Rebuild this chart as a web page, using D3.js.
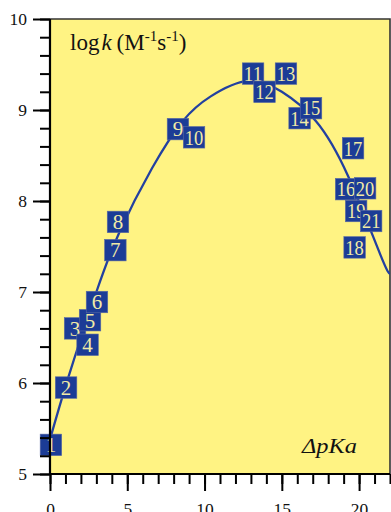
<!DOCTYPE html>
<html>
<head>
<meta charset="utf-8">
<script src="https://cdn.jsdelivr.net/npm/d3@7"></script>
<style>
  html, body { margin: 0; padding: 0; background: #ffffff; }
  svg { display: block; }
  text { font-family: "Liberation Serif", "Times New Roman", serif; }
</style>
</head>
<body>
<svg id="chart" width="391" height="512"></svg>
<script>
// Compound number, ΔpKa and log k for each labelled point
const labels = ["1","2","3","4","5","6","7","8","9","10","11","12","13","14","15","16","17","18","19","20","21"];
const dpKa   = [0.06, 1.04, 1.62, 2.43, 2.59, 3.04, 4.23, 4.40, 8.28, 9.32, 13.14, 13.88, 15.27, 16.15, 16.89, 19.16, 19.61, 19.71, 19.81, 20.39, 20.78];
const logK   = [5.32, 5.95, 6.60, 6.42, 6.69, 6.89, 7.46, 7.77, 8.79, 8.70, 9.40, 9.20, 9.40, 8.91, 9.02, 8.13, 8.58, 7.49, 7.89, 8.14, 7.78];

// Fitted curve, sampled along its path
const fitX = [0, 1.2, 3.0, 4.5, 6.6, 8.6, 10.4, 12.8, 15.0, 17.2, 19.3, 21.4, 22.0];
const fitY = [5.38, 6.07, 7.00, 7.66, 8.36, 8.88, 9.15, 9.32, 9.20, 8.88, 8.27, 7.40, 7.20];

// Axis ticks
const xMajor = [0, 5, 10, 15, 20];
const xMinor = d3.range(0, 23, 1);
const yMajor = [5, 6, 7, 8, 9, 10];
const yMinor = d3.range(50, 101, 2).map(v => v / 10);

const svg = d3.select("#chart");
const mLeft = 50, mRight = 390, mTop = 19, mBottom = 474;

const x = d3.scaleLinear().domain([0, 22]).range([mLeft, mRight]);
const y = d3.scaleLinear().domain([5, 10]).range([mBottom, mTop]);

// Plot background
svg.append("rect")
  .attr("x", mLeft).attr("y", mTop)
  .attr("width", mRight - mLeft).attr("height", mBottom - mTop)
  .attr("fill", "#fff383");

// Frame on top and right
svg.append("path")
  .attr("d", `M${mLeft},${mTop}H${mRight}V${mBottom}`)
  .attr("fill", "none").attr("stroke", "#333").attr("stroke-width", 1.6);

// Fitted curve
const line = d3.line().x(d => x(d[0])).y(d => y(d[1])).curve(d3.curveNatural);
svg.append("path")
  .datum(fitX.map((v, i) => [v, fitY[i]]))
  .attr("d", line)
  .attr("fill", "none")
  .attr("stroke", "#2340a0")
  .attr("stroke-width", 2.3);

// Square markers with compound numbers
const pts = labels.map((l, i) => ({ l, x: dpKa[i], y: logK[i] }));
const box = 21.5;
const g = svg.append("g").selectAll("g").data(pts).join("g")
  .attr("transform", d => `translate(${x(d.x)},${y(d.y)})`);
g.append("rect")
  .attr("x", -box / 2).attr("y", -box / 2)
  .attr("width", box).attr("height", box)
  .attr("fill", "#1c3c96")
  .attr("stroke", "#5a6aa4").attr("stroke-width", 0.6);
g.append("text")
  .attr("text-anchor", "middle")
  .attr("y", 7.3)
  .attr("font-size", 21)
  .attr("fill", "#f2eba6")
  .each(function (d) {
    if (d.l.length > 1) {
      d3.select(this).attr("textLength", 18.5).attr("lengthAdjust", "spacingAndGlyphs");
    }
  })
  .text(d => d.l);

// Axes
const axisStyle = sel => {
  sel.selectAll("line").attr("stroke", "#000").attr("stroke-width", 2);
  sel.selectAll("text").attr("font-family", "Liberation Serif, serif").attr("font-size", 17.5).attr("fill", "#111");
};

svg.append("g").attr("transform", `translate(0,${mBottom})`)
  .call(d3.axisBottom(x).tickValues(xMinor).tickSize(10).tickSizeOuter(0).tickFormat(""))
  .call(s => s.select(".domain").remove())
  .call(axisStyle);
svg.append("g").attr("transform", `translate(0,${mBottom})`)
  .call(d3.axisBottom(x).tickValues(xMajor).tickSize(17).tickSizeOuter(0).tickPadding(11.5).tickFormat(d3.format("d")))
  .call(s => s.select(".domain").remove())
  .call(axisStyle);

svg.append("g").attr("transform", `translate(${mLeft},0)`)
  .call(d3.axisLeft(y).tickValues(yMinor).tickSize(10).tickSizeOuter(0).tickFormat(""))
  .call(s => s.select(".domain").remove())
  .call(axisStyle);
svg.append("g").attr("transform", `translate(${mLeft},0)`)
  .call(d3.axisLeft(y).tickValues(yMajor).tickSize(17).tickSizeOuter(0).tickPadding(6).tickFormat(d3.format("d")))
  .call(s => s.select(".domain").remove())
  .call(axisStyle);

// Axis lines
svg.append("line").attr("x1", mLeft).attr("x2", mRight).attr("y1", mBottom).attr("y2", mBottom)
  .attr("stroke", "#000").attr("stroke-width", 2.2);
svg.append("line").attr("x1", mLeft).attr("x2", mLeft).attr("y1", mTop).attr("y2", mBottom + 1)
  .attr("stroke", "#000").attr("stroke-width", 2.2);

// Y axis title inside the plot
const yt = svg.append("text").attr("x", 70).attr("y", 50).attr("font-size", 23).attr("fill", "#111");
yt.append("tspan").text("log");
yt.append("tspan").attr("dx", 2).attr("font-style", "italic").text("k");
yt.append("tspan").attr("dx", 5).text("(M");
yt.append("tspan").attr("font-size", 15).attr("dy", -9).text("-1");
yt.append("tspan").attr("dy", 9).text("s");
yt.append("tspan").attr("font-size", 15).attr("dy", -9).text("-1");
yt.append("tspan").attr("dy", 9).text(")");

// X axis title inside the plot
svg.append("text")
  .attr("x", 302).attr("y", 453)
  .attr("font-size", 21).attr("font-style", "italic").attr("fill", "#111")
  .attr("textLength", 55).attr("lengthAdjust", "spacingAndGlyphs")
  .text("ΔpKa");
</script>
</body>
</html>
